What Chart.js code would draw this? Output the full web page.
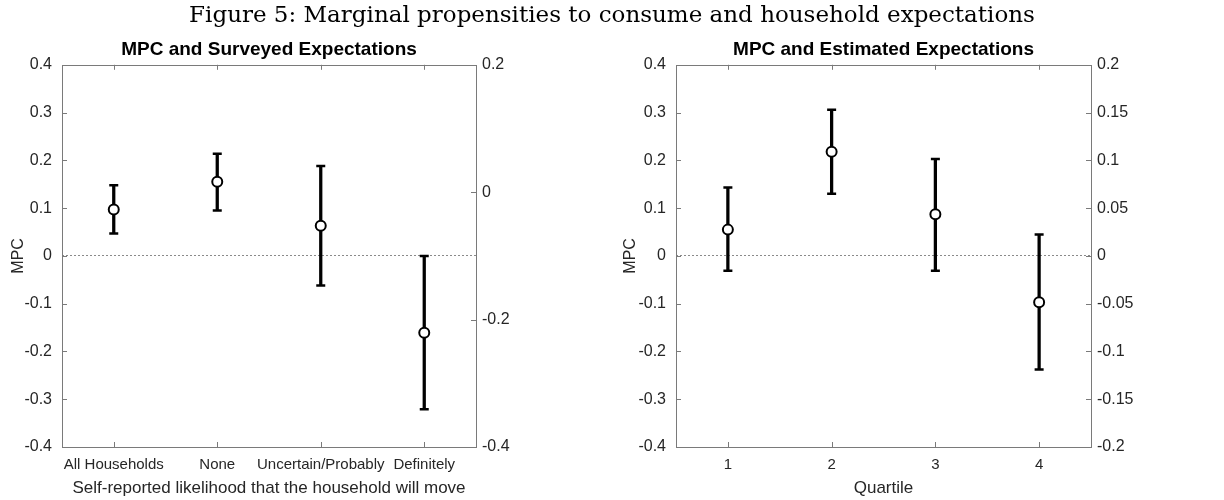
<!DOCTYPE html>
<html>
<head>
<meta charset="utf-8">
<script src="https://cdn.jsdelivr.net/npm/chart.js@4/dist/chart.umd.min.js"></script>
<style>
  body { margin: 0; background: #fff; width: 1224px; height: 500px; position: relative; overflow: hidden; }
  #fig { position: absolute; top: 0; left: 0; width: 1224px; text-align: center;
         font-family: "DejaVu Serif"; font-size: 23px; line-height: 28px; color: #000; }
  .box { position: absolute; top: 0; width: 612px; height: 500px; }
</style>
</head>
<body>
<div class="box" style="left:0"><canvas id="moveChart"></canvas></div>
<div class="box" style="left:612px"><canvas id="quartChart"></canvas></div>
<div id="fig">Figure 5: Marginal propensities to consume and household expectations</div>
<script>
// left panel: surveyed expectations
const moveLabels = ["All Households", "None", "Uncertain/Probably", "Definitely"];
const moveMpc = [0.097, 0.155, 0.063, -0.161];
const moveUpper = [0.148, 0.214, 0.188, 0.0];
const moveLower = [0.047, 0.095, -0.062, -0.321];

// right panel: estimated expectations
const quartLabels = ["1", "2", "3", "4"];
const quartMpc = [0.055, 0.218, 0.087, -0.097];
const quartUpper = [0.143, 0.306, 0.203, 0.045];
const quartLower = [-0.031, 0.130, -0.031, -0.238];

// axis ranges
const mpcRange = [-0.4, 0.4, 0.1];
const moveRightRange = [-0.4, 0.2, 0.2];
const quartRightRange = [-0.2, 0.2, 0.05];

const textColor = "#262626";
const boxColor = "#7a7a7a";
const fmt = v => parseFloat(v.toFixed(2)).toString();

// MATLAB-like box with inward tick marks
const boxTicks = {
  id: "boxTicks",
  afterDraw(chart) {
    const { ctx, chartArea: a, scales } = chart;
    const len = 5;
    ctx.save();
    ctx.strokeStyle = boxColor;
    ctx.lineWidth = 1;
    ctx.strokeRect(Math.round(a.left) + 0.5, Math.round(a.top) + 0.5,
                   Math.round(a.right - a.left), Math.round(a.bottom - a.top));
    ctx.beginPath();
    scales.x.ticks.forEach((t, i) => {
      const px = Math.round(scales.x.getPixelForTick(i)) + 0.5;
      ctx.moveTo(px, a.bottom); ctx.lineTo(px, a.bottom - len);
      ctx.moveTo(px, a.top); ctx.lineTo(px, a.top + len);
    });
    scales.y.ticks.forEach((t, i) => {
      const py = Math.round(scales.y.getPixelForTick(i)) + 0.5;
      ctx.moveTo(a.left, py); ctx.lineTo(a.left + len, py);
    });
    scales.y2.ticks.forEach((t, i) => {
      const py = Math.round(scales.y2.getPixelForTick(i)) + 0.5;
      ctx.moveTo(a.right, py); ctx.lineTo(a.right - len, py);
    });
    ctx.stroke();
    ctx.restore();
  }
};

function makeChart(id, title, labels, mpc, upper, lower, xTitle, rightRange, leftW, rightW) {
  const ctx = document.getElementById(id).getContext("2d");
  return new Chart(ctx, {
    type: "bar",
    data: {
      labels: labels,
      datasets: [
        {
          type: "line",
          data: mpc,
          showLine: false,
          pointStyle: "circle",
          pointRadius: 5,
          pointHoverRadius: 5,
          pointBorderWidth: 2,
          pointBackgroundColor: "#fff",
          pointBorderColor: "#000",
          order: 1,
        },
        {
          type: "line",
          data: upper,
          showLine: false,
          pointStyle: "line",
          pointRadius: 4.5,
          pointHoverRadius: 4.5,
          pointBorderWidth: 2.5,
          pointBorderColor: "#000",
          order: 2,
        },
        {
          type: "line",
          data: lower,
          showLine: false,
          pointStyle: "line",
          pointRadius: 4.5,
          pointHoverRadius: 4.5,
          pointBorderWidth: 2.5,
          pointBorderColor: "#000",
          order: 2,
        },
        {
          data: lower.map((l, i) => [l, upper[i]]),
          backgroundColor: "#000",
          barThickness: 2.6,
          order: 3,
        },
      ],
    },
    options: {
      responsive: true,
      maintainAspectRatio: false,
      animation: false,
      layout: { padding: { top: 38, left: 0, right: 0, bottom: 0 } },
      plugins: {
        legend: { display: false },
        tooltip: { enabled: false },
        title: {
          display: true,
          text: title,
          fullSize: false,
          color: "#000",
          font: { family: "Liberation Sans", size: 19, weight: "bold" },
          padding: { top: 0, bottom: 4 },
        },
      },
      scales: {
        x: {
          offset: true,
          grid: { display: false, drawTicks: false },
          border: { display: false },
          ticks: {
            color: textColor,
            font: { family: "Liberation Sans", size: 15 },
            padding: 9,
            maxRotation: 0,
            autoSkip: false,
          },
          title: {
            display: true,
            text: xTitle,
            color: textColor,
            font: { family: "Liberation Sans", size: 17 },
            padding: { top: 0, bottom: 1 },
          },
          afterFit: s => { s.height = 53; },
        },
        y: {
          position: "left",
          min: mpcRange[0],
          max: mpcRange[1],
          ticks: {
            stepSize: mpcRange[2],
            callback: v => fmt(v),
            color: textColor,
            font: { family: "Liberation Sans", size: 16 },
            padding: 10,
          },
          grid: {
            drawTicks: false,
            lineWidth: 1,
            color: c => (c.tick && Math.abs(c.tick.value) < 1e-9 ? "#8a8a8a" : "rgba(0,0,0,0)"),
          },
          border: { display: false, dash: [2, 2] },
          title: {
            display: true,
            text: "MPC",
            color: textColor,
            font: { family: "Liberation Sans", size: 16 },
            padding: { top: 9, bottom: 0 },
          },
          afterFit: s => { s.width = leftW; },
        },
        y2: {
          position: "right",
          min: rightRange[0],
          max: rightRange[1],
          ticks: {
            stepSize: rightRange[2],
            callback: v => fmt(v),
            color: textColor,
            font: { family: "Liberation Sans", size: 16 },
            padding: 6,
          },
          grid: { display: false, drawTicks: false },
          border: { display: false },
          afterFit: s => { s.width = rightW; },
        },
      },
    },
    plugins: [boxTicks],
  });
}

makeChart("moveChart", "MPC and Surveyed Expectations", moveLabels, moveMpc, moveUpper, moveLower,
          "Self-reported likelihood that the household will move", moveRightRange, 62, 136);
makeChart("quartChart", "MPC and Estimated Expectations", quartLabels, quartMpc, quartUpper, quartLower,
          "Quartile", quartRightRange, 64, 133);
</script>
</body>
</html>
